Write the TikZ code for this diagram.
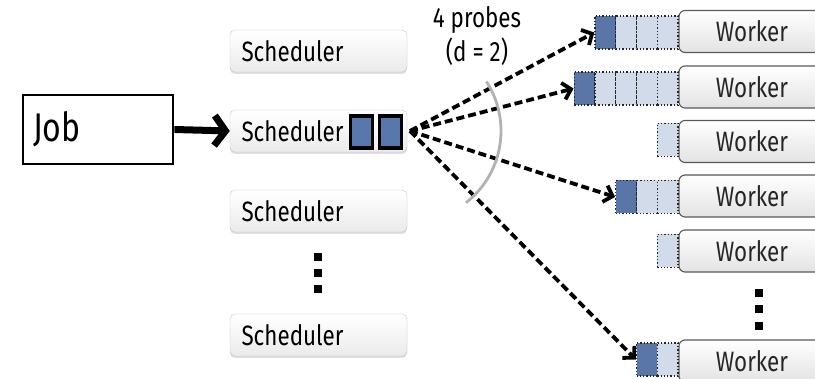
\documentclass[tikz,border=0pt]{standalone}
\usepackage{fontspec}
\setmainfont{Fira Sans}[FakeStretch=0.8]
\usetikzlibrary{arrows.meta,shadows}
\definecolor{qdark}{HTML}{5A76A8}
\definecolor{qlight}{HTML}{D2DBE9}
\definecolor{sqfill}{HTML}{5877AC}
\tikzset{
  sched/.style={draw=gray!45, rounded corners=5pt, top color=white, bottom color=gray!16,
    minimum height=42pt, text width=154pt, inner xsep=11.5pt, align=left,
    font=\fontsize{28}{30}\selectfont,
    drop shadow={shadow xshift=0pt, shadow yshift=-2pt, opacity=0.25}},
  worker/.style={draw=gray!70!black, line width=1.1pt, rounded corners=6pt, top color=white, bottom color=gray!22,
    minimum height=42pt, minimum width=146pt, inner sep=0pt, text=black!85,
    font=\fontsize{28}{30}\selectfont},
  cell/.style={draw=black!85, dotted, line width=1.3pt, minimum width=20.75pt, minimum height=33pt, inner sep=0pt},
  dk/.style={cell, fill=qdark},
  lt/.style={cell, fill=qlight},
  probe/.style={line width=3.8pt, dash pattern=on 8pt off 4pt, -{Straight Barb[length=8pt,width=17pt]}},
  dotbox/.style={fill=black, minimum size=7.5pt, inner sep=0pt},
  tsq/.style={draw=black, line width=3.6pt, fill=sqfill, minimum width=22pt, minimum height=32pt, inner sep=0pt}
}
\begin{document}
\begin{tikzpicture}[x=1pt,y=-1pt]
\clip (0,0) rectangle (815,379);
\fill[white] (0,0) rectangle (815,379);
% Job
\node[draw=black, line width=2.8pt, minimum height=69pt, text width=130pt, inner xsep=10pt, align=left,
      font=\fontsize{40}{42}\selectfont] (job) at (98,129.5) {Job};
% Schedulers
\node[sched] (s1) at (318.5,51) {Scheduler};
\node[sched] (s2) at (318.5,131) {Scheduler};
\node[sched] (s3) at (318.5,211) {Scheduler};
\node[sched] (s4) at (318.5,335) {Scheduler};
\node[tsq] (t1) at (361.5,132) {};
\node[tsq] (t2) at (390.5,132) {};
\node[dotbox] (sd1) at (318,257) {};
\node[dotbox] (sd2) at (318,273) {};
\node[dotbox] (sd3) at (318,289) {};
% Workers
\node[worker] (w1) at (752,31.5) {Worker};
\node[worker] (w2) at (752,87) {Worker};
\node[worker] (w3) at (752,141.5) {Worker};
\node[worker] (w4) at (752,196) {Worker};
\node[worker] (w5) at (752,251) {Worker};
\node[worker] (w6) at (752,361) {Worker};
\node[dotbox] (wd1) at (759,293) {};
\node[dotbox] (wd2) at (759,309) {};
\node[dotbox] (wd3) at (759,326) {};
% Queues
\node[dk] (q1a) at (605.375,32.5) {};
\node[lt] (q1b) at (626.125,32.5) {};
\node[lt] (q1c) at (646.875,32.5) {};
\node[lt] (q1d) at (667.625,32.5) {};
\node[dk] (q2a) at (584.625,88.5) {};
\node[lt] (q2b) at (605.375,88.5) {};
\node[lt] (q2c) at (626.125,88.5) {};
\node[lt] (q2d) at (646.875,88.5) {};
\node[lt] (q2e) at (667.625,88.5) {};
\node[lt] (q3a) at (667.625,140) {};
\node[dk] (q4a) at (626.125,197) {};
\node[lt] (q4b) at (646.875,197) {};
\node[lt] (q4c) at (667.625,197) {};
\node[lt] (q5a) at (667.625,251) {};
\node[dk] (q6a) at (646.875,359.5) {};
\node[lt] (q6b) at (667.625,359.5) {};
% arrows
\draw[line width=7pt, -{Straight Barb[length=11pt,width=30pt]}] (job.east) -- (s2.west);
\coordinate (src) at (410,131);
\draw[probe] (src) -- (q1a.west);
\draw[probe] (src) -- (q2a.west);
\draw[probe] (src) -- (q4a.west);
\draw[probe] (src) -- (q6a.west);
% arc
\draw[gray!60, line width=2.8pt] ([shift={(-52:91pt)}]src) arc[start angle=-52, end angle=33, radius=91pt];
\node[font=\fontsize{28}{34}\selectfont, align=center, inner sep=0pt] (lbl) at (477,36) {4 probes\\(d = 2)};
\end{tikzpicture}
\end{document}
